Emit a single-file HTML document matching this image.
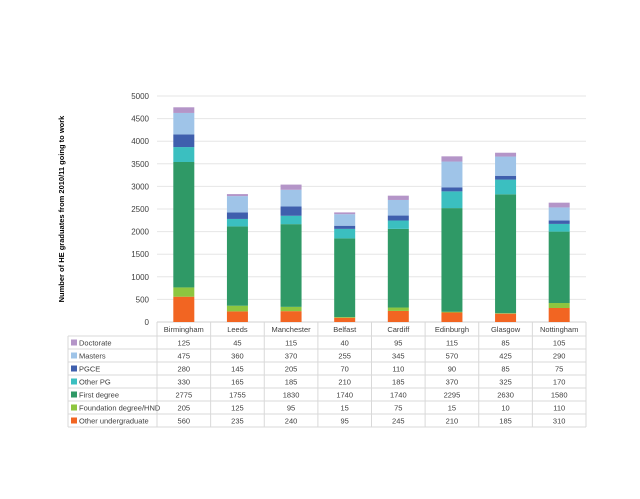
<!DOCTYPE html>
<html><head><meta charset="utf-8"><style>
body{margin:0;background:#fff;}
svg text{font-family:"Liberation Sans",sans-serif;fill:#404040;}
</style></head><body>
<svg id="chart" width="640" height="494" viewBox="0 0 640 494" xmlns="http://www.w3.org/2000/svg">
<text transform="translate(64,209) rotate(-90)" text-anchor="middle" font-size="7.5" font-weight="bold" style="fill:#000">Number of HE graduates from 2010/11 going to work</text>
<g id="grid"></g><g id="bars"></g><g id="table"></g>
</svg>
<script>
const categories=["Birmingham","Leeds","Manchester","Belfast","Cardiff","Edinburgh","Glasgow","Nottingham"];
const seriesNames=["Doctorate","Masters","PGCE","Other PG","First degree","Foundation degree/HND","Other undergraduate"];
const doctorate=[125,45,115,40,95,115,85,105];
const masters=[475,360,370,255,345,570,425,290];
const pgce=[280,145,205,70,110,90,85,75];
const otherPG=[330,165,185,210,185,370,325,170];
const firstDegree=[2775,1755,1830,1740,1740,2295,2630,1580];
const foundation=[205,125,95,15,75,15,10,110];
const otherUG=[560,235,240,95,245,210,185,310];
const yTicks=[0,500,1000,1500,2000,2500,3000,3500,4000,4500,5000];
const colors=["#b495c8","#9fc4e8","#3f5fad","#3bbfc0","#2f9966","#8dc63f","#f26522"];
const series=[doctorate,masters,pgce,otherPG,firstDegree,foundation,otherUG];
const NS="http://www.w3.org/2000/svg";
const L=157,R=586,T=96,B=322,yMax=5000;
const cw=(R-L)/categories.length;
const y=v=>B-(v/yMax)*(B-T);
const xc=i=>L+cw*(i+0.5);
function mk(tag,attrs,parent,txt){const e=document.createElementNS(NS,tag);for(const k in attrs)e.setAttribute(k,attrs[k]);if(txt!==undefined)e.textContent=txt;parent.appendChild(e);return e;}
const grid=document.getElementById('grid'),bars=document.getElementById('bars'),tbl=document.getElementById('table');
yTicks.forEach(t=>{
  const l=mk('line',{x1:L,x2:R,y1:y(t),y2:y(t),stroke:t===0?'#d0d0d0':'#e6e6e6','stroke-width':1},grid);
  
  
  const tx=mk('text',{x:L-8,y:y(t)+3,'text-anchor':'end','font-size':8},grid,String(t));
  
  
});
const bw=21;
categories.forEach((c,i)=>{
  let acc=0;
  for(let s=series.length-1;s>=0;s--){
    const v=series[s][i];
    const r=mk('rect',{x:xc(i)-bw/2,y:y(acc+v),width:bw,height:y(acc)-y(acc+v),fill:colors[s]},bars);
    
    
    acc+=v;
  }
});
const rowH=13,hdrB=336,tL=68;
const lc='#d9d9d9';
mk('line',{x1:L,x2:L,y1:B,y2:hdrB+rowH*7,stroke:lc},tbl);
for(let i=1;i<=categories.length;i++) mk('line',{x1:L+cw*i,x2:L+cw*i,y1:B,y2:hdrB+rowH*7,stroke:lc},tbl);
mk('line',{x1:tL,x2:tL,y1:hdrB,y2:hdrB+rowH*7,stroke:lc},tbl);
for(let r=0;r<=7;r++) mk('line',{x1:tL,x2:R,y1:hdrB+rowH*r,y2:hdrB+rowH*r,stroke:lc},tbl);
categories.forEach((c,i)=>{
  const t=mk('text',{x:xc(i),y:B+10,'text-anchor':'middle','font-size':7.5},tbl,c);
  
  
});
seriesNames.forEach((n,s)=>{
  const cy=hdrB+rowH*s+rowH/2;
  const sw=mk('rect',{x:tL+3,y:cy-3,width:6,height:6,fill:colors[s]},tbl);
  
  
  const t=mk('text',{x:tL+11,y:cy+3,'font-size':7.5},tbl,n);
  
  
  categories.forEach((c,i)=>{
    const v=mk('text',{x:xc(i),y:cy+3,'text-anchor':'middle','font-size':7.5},tbl,String(series[s][i]));
    
    
  });
});
</script>
</body></html>
